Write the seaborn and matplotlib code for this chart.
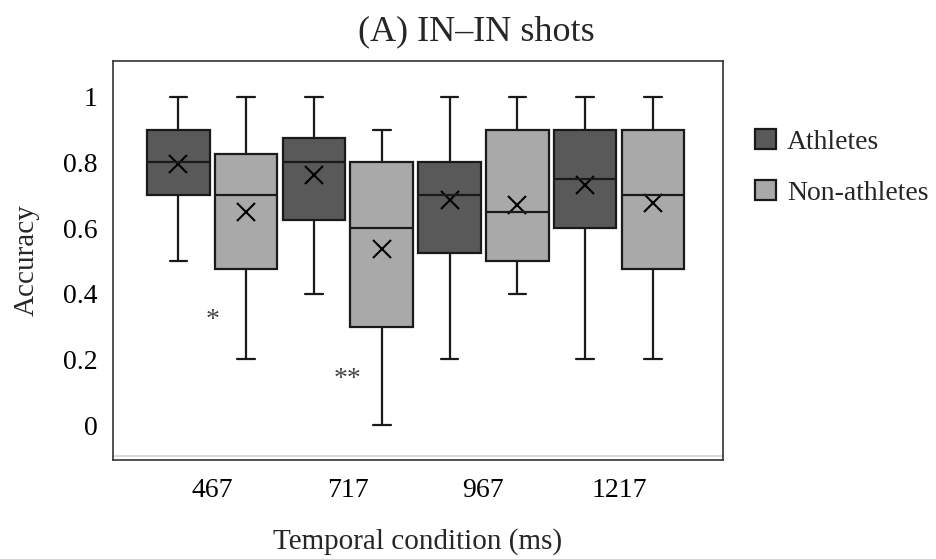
import numpy as np
import pandas as pd
import matplotlib
matplotlib.use("Agg")
import matplotlib.pyplot as plt
import seaborn as sns

# ---------------- data ----------------
conditions = ["467", "717", "967", "1217"]
groups = ["Athletes", "Non-athletes"]

ath_min    = [0.50, 0.40, 0.20, 0.20]
ath_q1     = [0.70, 0.625, 0.525, 0.60]
ath_median = [0.80, 0.80, 0.70, 0.75]
ath_q3     = [0.90, 0.875, 0.80, 0.90]
ath_max    = [1.00, 1.00, 1.00, 1.00]
ath_mean   = [0.795, 0.76, 0.685, 0.73]

non_min    = [0.20, 0.00, 0.40, 0.20]
non_q1     = [0.475, 0.30, 0.50, 0.475]
non_median = [0.70, 0.60, 0.65, 0.70]
non_q3     = [0.825, 0.80, 0.90, 0.90]
non_max    = [1.00, 0.90, 1.00, 1.00]
non_mean   = [0.65, 0.535, 0.67, 0.675]

y_ticks = [0, 0.2, 0.4, 0.6, 0.8, 1]
y_tick_labels = ["0", "0.2", "0.4", "0.6", "0.8", "1"]

sig_conditions = ["467", "717"]
sig_labels = ["*", "**"]
sig_y = [0.30, 0.12]

title = "(A) IN\u2013IN shots"
x_label = "Temporal condition (ms)"
y_label = "Accuracy"

# ---------------- tables ----------------
stats = {
    "Athletes": (ath_min, ath_q1, ath_median, ath_q3, ath_max),
    "Non-athletes": (non_min, non_q1, non_median, non_q3, non_max),
}
rows = []
for grp, cols in stats.items():
    for i, cond in enumerate(conditions):
        for col in cols:
            rows.append({"cond": cond, "group": grp, "acc": col[i]})
box_df = pd.DataFrame(rows)

mean_df = pd.DataFrame({
    "cond": conditions * 2,
    "group": ["Athletes"] * 4 + ["Non-athletes"] * 4,
    "mean": ath_mean + non_mean,
})

# ---------------- style ----------------
sns.set_style("white")
plt.rcParams["font.family"] = ["Liberation Serif", "DejaVu Serif"]
plt.rcParams["mathtext.fontset"] = "stix"

W, H = 936, 559
fig = plt.figure(figsize=(W / 100, H / 100), dpi=100)
ax = fig.add_axes([113 / W, 1 - 460 / H, (723 - 113) / W, (460 - 61) / H])

palette = {"Athletes": "#595959", "Non-athletes": "#a9a9a9"}
edge = "#1a1a1a"

sns.boxplot(
    data=box_df, x="cond", y="acc", hue="group",
    order=conditions, hue_order=groups, palette=palette,
    whis=(0, 100), showfliers=False, width=1.0, gap=0.075,
    saturation=1, linecolor=edge, linewidth=1.6,
    capwidths=0.13, ax=ax,
)

sns.pointplot(
    data=mean_df, x="cond", y="mean", hue="group",
    order=conditions, hue_order=groups,
    palette={"Athletes": "black", "Non-athletes": "black"},
    markers="x", linestyle="none", dodge=0.5, errorbar=None,
    legend=False, markersize=13, markeredgewidth=1.5, ax=ax,
)

# significance marks
for cond, lab, yv in zip(sig_conditions, sig_labels, sig_y):
    ax.text(conditions.index(cond), yv, lab, ha="center", va="baseline",
            fontsize=20, color="#444444")

ax.set_xlim(-0.732, 3.767)
ax.set_ylim(-0.1066, 1.1087)
ax.set_yticks(y_ticks)
ax.set_yticklabels(y_tick_labels)
ax.tick_params(axis="both", length=0, labelsize=20, colors="black")
ax.tick_params(axis="y", pad=11)
ax.tick_params(axis="x", pad=13)

for s in ax.spines.values():
    s.set_visible(True)
    s.set_color("#333333")
    s.set_linewidth(1.2)
ax.plot([0, 1], [0.009, 0.009], transform=ax.transAxes, color="#d9d9d9",
        lw=1.5, clip_on=False)

ax.set_xlabel(x_label, fontsize=21)
ax.set_ylabel(y_label, fontsize=21)
ax.xaxis.set_label_coords(0.5, -0.205)
ax.xaxis.label.set_va("center")
ax.yaxis.set_label_coords(-0.141, 0.5)
ax.yaxis.label.set_va("center")

fig.text(476 / W, 1 - 32 / H, title, ha="center", va="center", fontsize=26)

sns.move_legend(
    ax, "upper left", bbox_to_anchor=(755 / W, 1 - 129 / H),
    bbox_transform=fig.transFigure, frameon=False, title=None,
    fontsize=20, handlelength=0.75, handleheight=0.75,
    handletextpad=0.4, labelspacing=0.9, borderaxespad=0, borderpad=0,
)

fig.savefig("out.png", dpi=100)
